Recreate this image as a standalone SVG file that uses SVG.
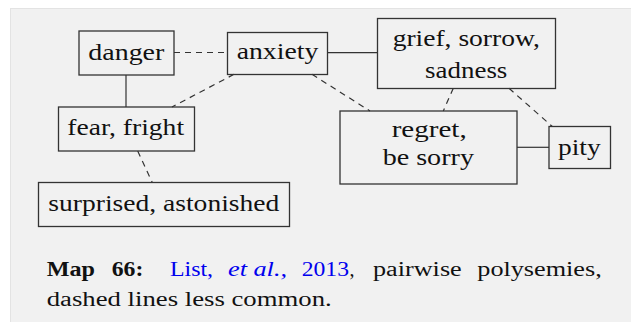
<svg xmlns="http://www.w3.org/2000/svg" width="631" height="322" viewBox="0 0 631 322">
<style>
.box{fill:none;stroke:#333;stroke-width:1.3}
.lbl{font-size:24px;fill:#111;text-anchor:middle}
.cap{font-size:20px;fill:#111}
.link{fill:#0000ee}
.solid{stroke:#333;stroke-width:1.2;fill:none}
.dash{stroke:#333;stroke-width:1.2;fill:none;stroke-dasharray:6 5}
</style>
<rect x="10.5" y="8.5" width="630" height="320" fill="#f1f1f1" stroke="#e3e3e3"/>
<g id="connectors">
<line class="dash" x1="174" y1="52.5" x2="227.5" y2="52.5"/>
<line class="solid" x1="126" y1="75" x2="126" y2="107"/>
<line class="dash" x1="234" y1="74.3" x2="172" y2="107"/>
<line class="dash" x1="137.7" y1="151" x2="152.3" y2="182.5"/>
<line class="solid" x1="327.3" y1="52.7" x2="377.5" y2="52.7"/>
<line class="dash" x1="312" y1="74.3" x2="370" y2="111"/>
<line class="dash" x1="453.3" y1="88.3" x2="443.3" y2="111"/>
<line class="dash" x1="509" y1="88.3" x2="552.3" y2="126.5"/>
<line class="solid" x1="517" y1="147.3" x2="549" y2="147.3"/>
</g>
<g font-family="Liberation Serif, Tinos, Times New Roman, Noto Serif, DejaVu Serif, FreeSerif, serif">
<g id="danger">
<rect class="box" x="79" y="31" width="95" height="44"/>
<text class="lbl" x="126.3" y="60" textLength="76" lengthAdjust="spacingAndGlyphs">danger</text>
</g>
<g id="anxiety">
<rect class="box" x="227.5" y="32.5" width="100" height="42"/>
<text class="lbl" x="277.5" y="59" textLength="81.6" lengthAdjust="spacingAndGlyphs">anxiety</text>
</g>
<g id="fear">
<rect class="box" x="58.5" y="107" width="136" height="44"/>
<text class="lbl" x="125.7" y="135" textLength="116.7" lengthAdjust="spacingAndGlyphs">fear, fright</text>
</g>
<g id="surprised">
<rect class="box" x="38.5" y="182.5" width="251" height="44"/>
<text class="lbl" x="163.8" y="210.5" textLength="231" lengthAdjust="spacingAndGlyphs">surprised, astonished</text>
</g>
<g id="grief">
<rect class="box" x="377.5" y="18.5" width="178" height="70"/>
<text class="lbl" x="466.3" y="46" textLength="147.3" lengthAdjust="spacingAndGlyphs">grief, sorrow,</text>
<text class="lbl" x="466.2" y="78" textLength="82.3" lengthAdjust="spacingAndGlyphs">sadness</text>
</g>
<g id="regret">
<rect class="box" x="340" y="111" width="177" height="73"/>
<text class="lbl" x="429.2" y="136.5" textLength="75" lengthAdjust="spacingAndGlyphs">regret,</text>
<text class="lbl" x="428.3" y="165" textLength="91.3" lengthAdjust="spacingAndGlyphs">be sorry</text>
</g>
<g id="pity">
<rect class="box" x="549" y="126.5" width="61.5" height="42"/>
<text class="lbl" x="579.3" y="155" textLength="42.7" lengthAdjust="spacingAndGlyphs">pity</text>
</g>
<g id="caption">
<text class="cap" x="46.7" y="276" font-weight="bold" textLength="48.3" lengthAdjust="spacingAndGlyphs">Map</text>
<text class="cap" x="111.7" y="276" font-weight="bold" textLength="31.6" lengthAdjust="spacingAndGlyphs">66:</text>
<text class="cap link" x="170" y="276" textLength="43" lengthAdjust="spacingAndGlyphs">List,</text>
<text class="cap link" x="228" y="276" font-style="italic" textLength="59" lengthAdjust="spacingAndGlyphs">et al.,</text>
<text class="cap link" x="301.7" y="276" textLength="47.3" lengthAdjust="spacingAndGlyphs">2013</text>
<text class="cap" x="349.5" y="276">,</text>
<text class="cap" x="373" y="276" textLength="88.7" lengthAdjust="spacingAndGlyphs">pairwise</text>
<text class="cap" x="477.3" y="276" textLength="124.4" lengthAdjust="spacingAndGlyphs">polysemies,</text>
<text class="cap" x="46.7" y="306" textLength="285" lengthAdjust="spacingAndGlyphs">dashed lines less common.</text>
</g>
</g>
</svg>
